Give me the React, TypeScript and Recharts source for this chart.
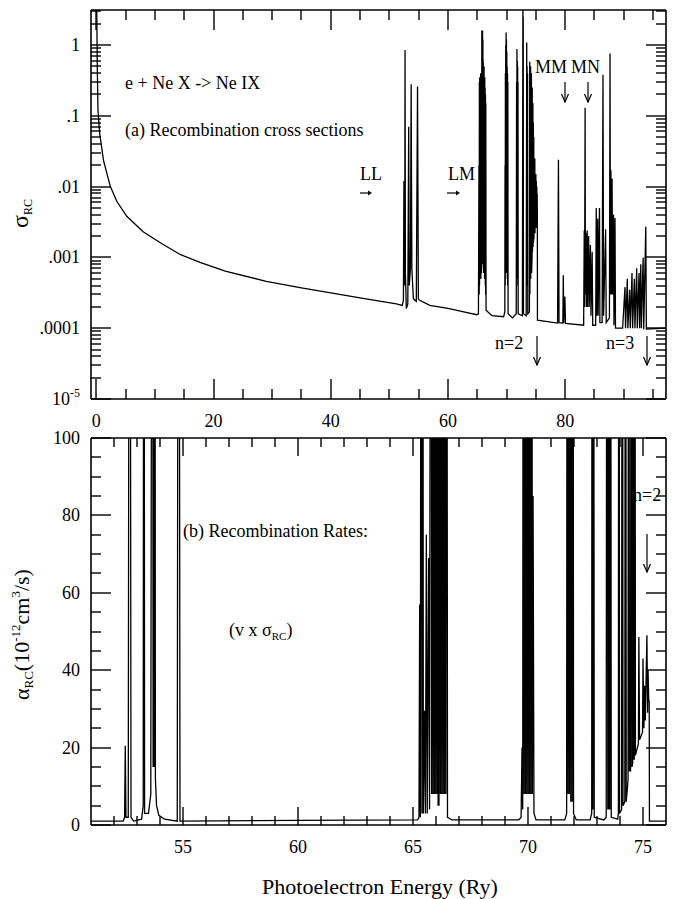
import { LineChart, Line, XAxis, YAxis } from 'recharts'

const SERIF = '"Liberation Serif", "Times New Roman", serif'

// panel (a): recombination cross section, [photoelectron energy (Ry), sigma_RC]
const sigmaPoints: [number, number][] = [
  [0.05, 6], [0.12, 1.46], [0.17, 0.5], [0.29, 0.12], [0.57, 0.057], [1.25, 0.023],
  [2.4, 0.01], [3.5, 0.0062], [5.2, 0.0038], [8, 0.0023], [11, 0.0016], [14.3, 0.0011],
  [17.7, 0.00085], [22, 0.00064], [29, 0.00046], [35, 0.00037], [41.5, 0.0003], [46, 0.00026],
  [51.2, 0.00022], [52.2, 0.00021], [52.4, 0.00025], [52.49, 0.012], [52.55, 0.0004],
  [52.62, 0.0006], [52.68, 0.85], [52.74, 0.0006], [52.9, 0.00019], [53.15, 0.00022],
  [53.3, 0.07], [53.4, 0.0004], [53.6, 0.0007], [53.72, 0.28], [53.84, 0.0007], [54.1, 0.00026],
  [54.6, 0.00024], [54.81, 0.26], [54.95, 0.00026], [55.1, 0.00025], [56.9, 0.00021],
  [60, 0.00019], [62.5, 0.000172], [64.9, 0.000155],
  // LM resonances
  [65.2, 0.00016], [65.29, 0.02], [65.33, 0.0003], [65.36, 0.3], [65.39, 0.0004], [65.42, 0.35],
  [65.46, 0.0005], [65.5, 0.05], [65.54, 0.0005], [65.58, 0.4], [65.62, 0.0005], [65.68, 0.3],
  [65.72, 0.0006], [65.78, 1.6], [65.81, 0.0008], [65.84, 1.0], [65.87, 0.0008], [65.9, 1.6],
  [65.93, 0.0008], [65.96, 1.2], [65.99, 0.0008], [66.02, 0.6], [66.05, 0.0007], [66.07, 0.5],
  [66.09, 0.0006], [66.11, 0.04], [66.13, 0.0006], [66.16, 0.5], [66.19, 0.0006], [66.22, 0.3],
  [66.25, 0.0005], [66.28, 0.35], [66.31, 0.0005], [66.34, 0.25], [66.37, 0.0004], [66.4, 0.2],
  [66.43, 0.0003], [66.46, 0.15], [66.5, 0.00018], [67.5, 0.00015], [69.5, 0.000145],
  [69.7, 0.00017], [69.74, 0.02], [69.77, 0.0004], [69.8, 0.4], [69.83, 0.0006], [69.86, 1.0],
  [69.89, 0.0006], [69.92, 1.5], [69.95, 0.0006], [69.98, 1.2], [70.01, 0.0006], [70.04, 0.8],
  [70.07, 0.0006], [70.1, 0.5], [70.13, 0.0005], [70.16, 0.4], [70.19, 0.0004], [70.22, 0.3],
  [70.26, 0.00016], [71.0, 0.00014], [71.65, 0.00016], [71.71, 0.3], [71.74, 0.0005],
  [71.77, 0.88], [71.8, 0.0005], [71.83, 0.6], [71.86, 0.0005], [71.89, 0.5], [71.92, 0.0004],
  [71.95, 0.3], [71.98, 0.00016], [72.7, 0.00015], [72.79, 8], [72.82, 0.0003], [72.84, 2.5],
  [72.88, 0.00016], [73.35, 0.00015], [73.44, 1.08], [73.47, 0.0004], [73.5, 0.5],
  [73.52, 0.0004], [73.54, 0.003], [73.56, 0.0004], [73.58, 0.4], [73.62, 0.00016],
  [73.9, 0.00017], [73.95, 0.58], [73.98, 0.0003], [74.1, 0.5], [74.13, 0.0005], [74.24, 0.4],
  [74.27, 0.0006], [74.35, 0.001], [74.38, 0.25], [74.42, 0.0012], [74.49, 0.15],
  [74.52, 0.0014], [74.57, 0.08], [74.6, 0.0016], [74.64, 0.05], [74.67, 0.0018],
  [74.82, 0.025], [74.85, 0.0022], [75.0, 0.015], [75.04, 0.0026], [75.07, 0.012],
  [75.1, 0.003], [75.16, 0.01], [75.19, 0.0035], [75.22, 0.008], [75.25, 0.004],
  [75.27, 0.00013],
  // above the n=2 limit
  [78.7, 0.000118], [78.85, 0.024], [78.95, 0.00012], [79.6, 0.000118], [79.68, 0.00056],
  [79.75, 0.000118], [79.95, 0.00028], [80.05, 0.000117], [83.15, 0.00011], [83.25, 0.0024],
  [83.3, 0.0002], [83.4, 0.13], [83.45, 0.0003], [83.55, 0.0022], [83.62, 0.0002],
  [83.75, 0.0024], [83.82, 0.0002], [84.0, 0.002], [84.1, 0.0002], [84.3, 0.0015],
  [84.4, 0.00015], [84.6, 0.0012], [84.7, 0.00011], [85.2, 0.00011], [85.3, 0.005],
  [85.38, 0.00015], [85.55, 0.0035], [85.62, 0.00015], [85.85, 0.005], [85.92, 0.00012],
  [86.3, 0.00012], [86.45, 0.38], [86.55, 0.00015], [86.9, 0.0025], [87.0, 0.00012],
  [87.55, 0.00014], [87.65, 0.76], [87.72, 0.0003], [87.8, 0.017], [87.88, 0.0003],
  [88.0, 0.013], [88.1, 0.0003], [88.25, 0.004], [88.32, 0.00011], [88.5, 0.0036],
  [88.58, 0.0001], [89.8, 0.0001], [90.2, 0.00038], [90.3, 0.0001], [90.6, 0.0005],
  [90.7, 0.0001], [91.0, 0.00035], [91.1, 0.0001], [91.4, 0.0006], [91.5, 0.0001],
  [91.8, 0.0005], [91.9, 0.0001], [92.2, 0.0007], [92.3, 0.0001], [92.6, 0.0006],
  [92.7, 0.0001], [92.9, 0.0008], [93.0, 0.0001], [93.3, 0.001], [93.4, 0.000097],
  [93.75, 0.0027], [93.85, 0.000097], [97.2, 0.0001],
]

// panel (b): recombination rate near the n=2 threshold, [energy (Ry), alpha_RC]
const ratePoints: [number, number][] = [
  [51, 1], [52.4, 1], [52.46, 2], [52.49, 20.5], [52.52, 2], [52.62, 2], [52.68, 300],
  [52.74, 2], [52.85, 1], [53.2, 1.5], [53.27, 5], [53.3, 300], [53.33, 3], [53.5, 3],
  [53.6, 8], [53.67, 300], [53.7, 15], [53.72, 300], [53.75, 15], [53.77, 300], [53.8, 12],
  [53.85, 5], [53.95, 2.5], [54.2, 1.5], [54.75, 1], [54.81, 300], [54.87, 1], [60, 1.2],
  [65.2, 1.3], [65.26, 2], [65.29, 57], [65.32, 2], [65.36, 300], [65.39, 3], [65.42, 300],
  [65.45, 3], [65.5, 29.5], [65.54, 3], [65.58, 75], [65.62, 3], [65.68, 69], [65.72, 4],
  [65.78, 300], [65.81, 8], [65.84, 300], [65.87, 8], [65.9, 300], [65.93, 8], [65.96, 300],
  [65.99, 8], [66.02, 300], [66.05, 8], [66.07, 300], [66.09, 5], [66.11, 24.5], [66.13, 5],
  [66.16, 300], [66.19, 8], [66.22, 300], [66.25, 8], [66.28, 300], [66.31, 8], [66.34, 300],
  [66.37, 8], [66.4, 300], [66.43, 8], [66.46, 300], [66.5, 2], [66.7, 1.3], [69.6, 1.3],
  [69.7, 2], [69.74, 20], [69.77, 4], [69.8, 300], [69.83, 8], [69.86, 300], [69.89, 8],
  [69.92, 300], [69.95, 8], [69.98, 300], [70.01, 8], [70.04, 300], [70.07, 8], [70.1, 300],
  [70.13, 8], [70.16, 300], [70.19, 8], [70.22, 85], [70.26, 3], [70.35, 1.3], [71.6, 1.3],
  [71.68, 3], [71.71, 300], [71.74, 8], [71.77, 300], [71.8, 8], [71.83, 300], [71.86, 6],
  [71.89, 300], [71.92, 6], [71.95, 300], [71.98, 3], [72.1, 1.3], [72.7, 1.3], [72.77, 3],
  [72.79, 300], [72.82, 4], [72.84, 300], [72.88, 2], [73.3, 1.3], [73.4, 2], [73.44, 300],
  [73.47, 4], [73.5, 300], [73.52, 4], [73.54, 44], [73.56, 4], [73.58, 300], [73.62, 2],
  [73.9, 1.5], [73.93, 3], [73.95, 300], [73.98, 3], [74.07, 4], [74.1, 300], [74.13, 5],
  [74.21, 6], [74.24, 300], [74.27, 6], [74.33, 10], [74.35, 12], [74.38, 300], [74.41, 14],
  [74.46, 14], [74.49, 300], [74.52, 15], [74.55, 16], [74.57, 300], [74.6, 17], [74.62, 17],
  [74.64, 300], [74.67, 18], [74.8, 21], [74.82, 48.6], [74.85, 22], [74.98, 24], [75.0, 43],
  [75.04, 25], [75.07, 36], [75.1, 27], [75.17, 49], [75.2, 29], [75.22, 40], [75.25, 32],
  [75.27, 32], [75.28, 1], [76, 1],
]

const topXMajor = [0, 20, 40, 60, 80]
const topXLabels = ['0', '20', '40', '60', '80']
const topXMinor = [5, 10, 15, 25, 30, 35, 45, 50, 55, 65, 70, 75, 85, 90, 95]
const topYMajor = [1e-5, 1e-4, 1e-3, 0.01, 0.1, 1]
const topYLabels = ['10^-5', '.0001', '.001', '.01', '.1', '1']
const decadeSteps = [2, 3, 4, 5, 6, 7, 8, 9]

const botXMajor = [55, 60, 65, 70, 75]
const botXLabels = ['55', '60', '65', '70', '75']
const botXMinor = [52, 53, 54, 56, 57, 58, 59, 61, 62, 63, 64, 66, 67, 68, 69, 71, 72, 73, 74]
const botYMajor = [0, 20, 40, 60, 80, 100]
const botYLabels = ['0', '20', '40', '60', '80', '100']
const botYMinor = [5, 10, 15, 25, 30, 35, 45, 50, 55, 65, 70, 75, 85, 90, 95]

const TOP_DOMAIN_X: [number, number] = [-0.9, 97.2]
const TOP_DOMAIN_Y: [number, number] = [1e-5, 3.12]
const BOT_DOMAIN_X: [number, number] = [51, 76]
const BOT_DOMAIN_Y: [number, number] = [0, 100]

// plot boxes (page pixels); chart margins are derived from these
const W = 673
const TOP_CHART = { top: 0, height: 430 }
const BOT_CHART = { top: 425, height: 474 }
const TOP_BOX = { left: 91, right: 666, top: 10, bottom: 399 }
const BOT_BOX = { left: 91, right: 666, top: 438, bottom: 825 }

const FRAME = { stroke: '#000', strokeWidth: 1.6 }

type Box = typeof TOP_BOX
type TickArgs = { x: number; y: number; payload: { value: number } }

const marginFor = (box: Box, chart: { top: number; height: number }) => ({
  left: box.left - 1,
  right: W - box.right - 1,
  top: box.top - chart.top - 1,
  bottom: chart.top + chart.height - box.bottom - 1,
})

const xLabel = (major: number[], labels: string[]) => (t: TickArgs) => {
  const i = major.indexOf(t.payload.value)
  if (i < 0) return <g />
  return (
    <text x={t.x} y={Number(t.y) + 28} textAnchor="middle" fontFamily={SERIF} fontSize={18} fill="#000">
      {labels[i]}
    </text>
  )
}

const yLabel = (major: number[], labels: string[]) => (t: TickArgs) => {
  const i = major.indexOf(t.payload.value)
  if (i < 0) return <g />
  const [base, sup] = labels[i].split('^')
  return (
    <text x={Number(t.x) - 11} y={Number(t.y) + 6} textAnchor="end" fontFamily={SERIF} fontSize={18} fill="#000">
      {base}
      {sup && <tspan dy={-8} fontSize={12}>{sup}</tspan>}
    </text>
  )
}

type Seg = { x1: number; y1: number; x2: number; y2: number; k: string }

// inward tick marks on all four sides of a panel, same linear/log mapping as the chart's axes
function tickSegments(
  box: Box, xDom: [number, number], yDom: [number, number], log: boolean,
  xs: [number[], number][], ys: [number[], number][],
): Seg[] {
  const g = (v: number) => (log ? Math.log10(v) : v)
  const fx = (v: number) => Math.round(box.left + ((v - xDom[0]) / (xDom[1] - xDom[0])) * (box.right - box.left))
  const fy = (v: number) =>
    Math.round(box.bottom - ((g(v) - g(yDom[0])) / (g(yDom[1]) - g(yDom[0]))) * (box.bottom - box.top))
  const out: Seg[] = []
  xs.forEach(([vals, len]) =>
    vals.forEach((v) => {
      const x = fx(v)
      out.push({ k: `xb${v}`, x1: x, x2: x, y1: box.bottom, y2: box.bottom - len })
      out.push({ k: `xt${v}`, x1: x, x2: x, y1: box.top, y2: box.top + len })
    }),
  )
  ys.forEach(([vals, len]) =>
    vals.forEach((v) => {
      const y = fy(v)
      out.push({ k: `yl${v}`, x1: box.left, x2: box.left + len, y1: y, y2: y })
      out.push({ k: `yr${v}`, x1: box.right, x2: box.right - len, y1: y, y2: y })
    }),
  )
  return out
}

// same construction as the arrows, which are known to draw
const TickMark = ({ s }: { s: Seg }) => (
  <g stroke="#000" strokeWidth={1.4} fill="none">
    <polyline points={`${s.x1},${s.y1} ${s.x2},${s.y2}`} />
  </g>
)

const DownArrow = ({ x, y1, y2 }: { x: number; y1: number; y2: number }) => (
  <g stroke="#000" strokeWidth={1.2} fill="none">
    <line x1={x} x2={x} y1={y1} y2={y2} />
    <polyline points={`${x - 3.5},${y2 - 8} ${x},${y2} ${x + 3.5},${y2 - 8}`} />
  </g>
)

const RightArrow = ({ x1, x2, y }: { x1: number; x2: number; y: number }) => (
  <g>
    <line x1={x1} x2={x2 - 3} y1={y} y2={y} stroke="#000" strokeWidth={1.2} />
    <polygon points={`${x2 - 4},${y - 2.5} ${x2},${y} ${x2 - 4},${y + 2.5}`} fill="#000" />
  </g>
)

export default function App() {
  const top = sigmaPoints.map(([e, v]) => ({ e, v }))
  const bottom = ratePoints.map(([e, v]) => ({ e, v }))
  const topYMinor = topYMajor.flatMap((d) => decadeSteps.map((s) => s * d)).filter((v) => v < TOP_DOMAIN_Y[1])

  const segs = [
    ...tickSegments(TOP_BOX, TOP_DOMAIN_X, TOP_DOMAIN_Y, true,
      [[topXMajor, 20], [topXMinor, 10]], [[topYMajor, 20], [topYMinor, 10]]).map((s) => ({ ...s, k: `a${s.k}` })),
    ...tickSegments(BOT_BOX, BOT_DOMAIN_X, BOT_DOMAIN_Y, false,
      [[botXMajor, 18], [botXMinor, 9]], [[botYMajor, 20], [botYMinor, 10]]).map((s) => ({ ...s, k: `b${s.k}` })),
  ]

  return (
    <div style={{ position: 'absolute', left: 0, top: 0, width: W, height: 899, background: '#fff' }}>
      <div style={{ position: 'absolute', left: 0, top: TOP_CHART.top }}>
        <LineChart width={W} height={TOP_CHART.height} data={top} margin={marginFor(TOP_BOX, TOP_CHART)}>
          <XAxis
            dataKey="e" type="number" domain={TOP_DOMAIN_X} allowDataOverflow
            ticks={topXMajor} interval={0} height={1}
            tickSize={0} tickMargin={0} tickLine={false} axisLine={FRAME}
            tick={xLabel(topXMajor, topXLabels)}
          />
          <XAxis
            xAxisId="frameTop" orientation="top" type="number" domain={TOP_DOMAIN_X} allowDataOverflow
            height={1} tick={false} tickLine={false} axisLine={FRAME}
          />
          <YAxis
            type="number" scale="log" domain={TOP_DOMAIN_Y} allowDataOverflow
            ticks={topYMajor} interval={0} width={1}
            tickSize={0} tickMargin={0} tickLine={false} axisLine={FRAME}
            tick={yLabel(topYMajor, topYLabels)}
          />
          <YAxis
            yAxisId="frameRight" orientation="right" type="number" domain={[0, 1]} allowDataOverflow
            width={1} tick={false} tickLine={false} axisLine={FRAME}
          />
          <Line dataKey="v" type="linear" stroke="#000" strokeWidth={1.3} dot={false} isAnimationActive={false} />
        </LineChart>
      </div>
      <div style={{ position: 'absolute', left: 0, top: BOT_CHART.top }}>
        <LineChart width={W} height={BOT_CHART.height} data={bottom} margin={marginFor(BOT_BOX, BOT_CHART)}>
          <XAxis
            dataKey="e" type="number" domain={BOT_DOMAIN_X} allowDataOverflow
            ticks={botXMajor} interval={0} height={1}
            tickSize={0} tickMargin={0} tickLine={false} axisLine={FRAME}
            tick={xLabel(botXMajor, botXLabels)}
          />
          <XAxis
            xAxisId="frameTop" orientation="top" type="number" domain={BOT_DOMAIN_X} allowDataOverflow
            height={1} tick={false} tickLine={false} axisLine={FRAME}
          />
          <YAxis
            type="number" domain={BOT_DOMAIN_Y} allowDataOverflow
            ticks={botYMajor} interval={0} width={1}
            tickSize={0} tickMargin={0} tickLine={false} axisLine={FRAME}
            tick={yLabel(botYMajor, botYLabels)}
          />
          <YAxis
            yAxisId="frameRight" orientation="right" type="number" domain={[0, 1]} allowDataOverflow
            width={1} tick={false} tickLine={false} axisLine={FRAME}
          />
          <Line dataKey="v" type="linear" stroke="#000" strokeWidth={1.3} dot={false} isAnimationActive={false} />
        </LineChart>
      </div>

      {/* tick marks, annotations and axis titles */}
      <svg
        width={W} height={899}
        style={{ position: 'absolute', left: 0, top: 0, pointerEvents: 'none' }}
        fontFamily={SERIF} fill="#000"
      >
        {segs.map((s) => <TickMark key={s.k} s={s} />)}

        <text x={125} y={89} fontSize={18}>e + Ne X -&gt; Ne IX</text>
        <text x={125} y={136} fontSize={18}>(a) Recombination cross sections</text>
        <text x={360} y={180} fontSize={18}>LL</text>
        <RightArrow x1={360} x2={372} y={193} />
        <text x={448} y={180} fontSize={18}>LM</text>
        <RightArrow x1={447} x2={460} y={193} />
        <text x={535} y={73} fontSize={18}>MM</text>
        <text x={571} y={73} fontSize={18}>MN</text>
        <DownArrow x={565} y1={82} y2={102} />
        <DownArrow x={588} y1={82} y2={102} />
        <text x={495} y={349} fontSize={18}>n=2</text>
        <DownArrow x={537} y1={336} y2={365} />
        <text x={606} y={349} fontSize={18}>n=3</text>
        <DownArrow x={647} y1={336} y2={365} />
        <text transform="translate(28,228) rotate(-90)" fontSize={24}>
          σ<tspan fontSize={12} dy={4}>RC</tspan>
        </text>

        <text x={183} y={537} fontSize={18}>(b) Recombination Rates:</text>
        <text x={229} y={636} fontSize={18}>
          (v x σ<tspan fontSize={11} dy={4}>RC</tspan><tspan dy={-4}>)</tspan>
        </text>
        <text x={633} y={501} fontSize={18}>n=2</text>
        <DownArrow x={647} y1={534} y2={572} />
        <text transform="translate(29,700) rotate(-90)" fontSize={22}>
          α<tspan fontSize={13} dy={4}>RC</tspan>
          <tspan dy={-4}>(10</tspan>
          <tspan fontSize={13} dy={-9}>-12</tspan>
          <tspan dy={9}>cm</tspan>
          <tspan fontSize={13} dy={-9}>3</tspan>
          <tspan dy={9}>/s)</tspan>
        </text>
        <text x={380} y={894} fontSize={22} textAnchor="middle">Photoelectron Energy (Ry)</text>
      </svg>
    </div>
  )
}
